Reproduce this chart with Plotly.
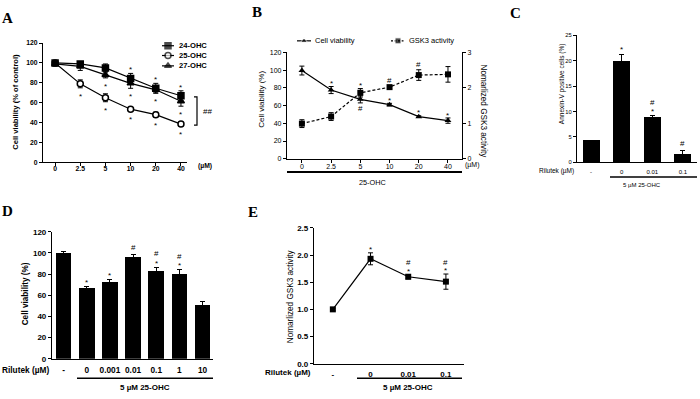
import plotly.graph_objects as go

# ---------------- data ----------------
conc_labels = ["0", "2.5", "5", "10", "20", "40"]
ohc24 = [100, 99, 95, 84.5, 74.5, 67]
ohc24_err = [2, 2, 4, 5, 5, 5]
ohc25 = [100, 79, 65, 53.5, 48, 38.5]
ohc25_err = [2, 4, 4, 1.5, 2.5, 2]
ohc27 = [99, 96.5, 88, 79.5, 73, 61.5]
ohc27_err = [2, 4, 3, 5, 3, 5]
sig24_above = [3, 4, 5]
sig27_below = [2, 3, 4, 5]
sig25_below = [1, 2, 3, 4, 5]

b_viability = [99.5, 77.5, 67, 61, 47.5, 43]
b_viability_err = [5, 4, 4, 1.5, 1, 3]
b_gsk3 = [0.99, 1.19, 1.86, 2.02, 2.36, 2.38]
b_gsk3_err = [0.11, 0.11, 0.12, 0.04, 0.15, 0.22]
b_star = [1, 2, 3, 4, 5]
b_hash = [2, 3, 4]

c_labels = ["-", "0", "0.01", "0.1"]
c_annexin = [4.3, 19.8, 8.9, 1.5]
c_annexin_err = [0, 1.5, 0.25, 0.8]
c_star = [1, 2]
c_hash = [2, 3]

d_labels = ["-", "0", "0.001", "0.01", "0.1", "1", "10"]
d_viability = [100, 67, 73, 96.5, 83.5, 80.5, 51]
d_viability_err = [1, 1.5, 1.5, 2, 3, 3.5, 3]
d_star = [1, 2, 4, 5]
d_hash = [3, 4, 5]

e_labels = ["-", "0", "0.01", "0.1"]
e_gsk3 = [1.0, 1.93, 1.60, 1.51]
e_gsk3_err = [0.02, 0.11, 0.04, 0.14]
e_star = [1, 2, 3]
e_hash = [2, 3]

# ---------------- helpers ----------------
W, H = 700, 399
FONT = "Liberation Sans, Arial, sans-serif"
SERIF = "Liberation Serif, Times New Roman, serif"


def fx(x):
    return x / W


def fy(y):
    return 1 - y / H


def font(size, bold=False):
    return dict(family=FONT, size=size, color="black", weight="bold" if bold else "normal")


def axis(size, bold=False, **kw):
    d = dict(showline=True, linecolor="black", linewidth=1.2, ticks="outside",
             ticklen=3, tickwidth=1, tickcolor="black", showgrid=False,
             zeroline=False, tickfont=font(size, bold), fixedrange=True)
    d.update(kw)
    return d


err = lambda arr: dict(type="data", array=arr, color="black", thickness=1, width=2.5)

fig = go.Figure()
annotations = []
shapes = []


def txt(x, y, s, size, bold=False, angle=0, xanchor="center", yanchor="middle", fam=FONT):
    annotations.append(dict(x=fx(x), y=fy(y), xref="paper", yref="paper", text=s,
                            showarrow=False, textangle=angle, xanchor=xanchor,
                            yanchor=yanchor, borderpad=0,
                            font=dict(family=fam, size=size, color="black",
                                      weight="bold" if bold else "normal")))


def mark(x, y, s, xr, yr, size=8):
    annotations.append(dict(x=x, y=y, xref=xr, yref=yr, text=s, showarrow=False,
                            xanchor="center", yanchor="middle", borderpad=0,
                            yshift=-0.3 * size if s == "*" else 0,
                            font=dict(family=FONT, size=size, color="black")))


def hline(x0, x1, y, w):
    shapes.append(dict(type="line", xref="paper", yref="paper", x0=fx(x0), x1=fx(x1),
                       y0=fy(y), y1=fy(y), line=dict(color="black", width=w)))


# ---------------- panel A ----------------
xa = list(range(len(conc_labels)))
for vals, errs, sym, col in [(ohc25, ohc25_err, "circle", "white"),
                             (ohc27, ohc27_err, "triangle-up", "black"),
                             (ohc24, ohc24_err, "square", "black")]:
    fig.add_trace(go.Scatter(x=xa, y=vals, mode="lines+markers", xaxis="x", yaxis="y",
                             line=dict(color="black", width=1.2),
                             marker=dict(symbol=sym, size=6, color=col,
                                         line=dict(color="black", width=1.5)),
                             error_y=err(errs), cliponaxis=False, showlegend=False))
for i in sig24_above:
    mark(i, ohc24[i] + ohc24_err[i] + 6, "*", "x", "y")
for i in sig27_below:
    mark(i, ohc27[i] - ohc27_err[i] - 6, "*", "x", "y")
for i in sig25_below:
    mark(i, ohc25[i] - ohc25_err[i] - 6, "*", "x", "y")

# ---------------- panel B ----------------
B_LEFT_MAX, B_RIGHT_MAX = 120, 3
ratio = B_LEFT_MAX / B_RIGHT_MAX
xb = list(range(len(conc_labels)))
fig.add_trace(go.Scatter(x=xb, y=b_viability, mode="lines+markers", xaxis="x2", yaxis="y2",
                         line=dict(color="black", width=1.2),
                         marker=dict(symbol="triangle-up", size=6, color="black"),
                         error_y=err(b_viability_err), cliponaxis=False, showlegend=False))
fig.add_trace(go.Scatter(x=xb, y=b_gsk3, mode="lines+markers", xaxis="x2", yaxis="y3",
                         line=dict(color="black", width=1.2, dash="3px,2px"),
                         marker=dict(symbol="square", size=6, color="black"),
                         error_y=err(b_gsk3_err), cliponaxis=False, showlegend=False))
for i in b_star + [j for j in b_hash if j not in b_star]:
    cv_lo, cv_hi = b_viability[i] - b_viability_err[i], b_viability[i] + b_viability_err[i]
    g_lo = (b_gsk3[i] - b_gsk3_err[i]) * ratio
    g_hi = (b_gsk3[i] + b_gsk3_err[i]) * ratio
    overlap = not (g_lo > cv_hi or g_hi < cv_lo)
    if i in b_star:
        mark(i, (max(cv_hi, g_hi) if overlap else cv_hi) + 6, "*", "x2", "y2")
    if i in b_hash:
        mark(i, (min(cv_lo, g_lo) - 6) if overlap else g_hi + 6, "#", "x2", "y2")

# ---------------- panel C ----------------
xc = list(range(len(c_labels)))
fig.add_trace(go.Bar(x=xc, y=c_annexin, width=0.56, xaxis="x4", yaxis="y4",
                     marker=dict(color="black", line=dict(width=0)),
                     error_y=err(c_annexin_err), showlegend=False))
for i in xc:
    top = c_annexin[i] + c_annexin_err[i]
    if i in c_star:
        mark(i, top + 1.3, "*", "x4", "y4")
    if i in c_hash:
        mark(i, top + (2.6 if i in c_star else 1.5), "#", "x4", "y4")

# ---------------- panel D ----------------
xd = list(range(len(d_labels)))
fig.add_trace(go.Bar(x=xd, y=d_viability, width=0.68, xaxis="x5", yaxis="y5",
                     marker=dict(color="black", line=dict(width=0)),
                     error_y=err(d_viability_err), showlegend=False))
for i in xd:
    top = d_viability[i] + d_viability_err[i]
    if i in d_star:
        mark(i, top + 6, "*", "x5", "y5")
    if i in d_hash:
        mark(i, top + (12.5 if i in d_star else 7), "#", "x5", "y5")

# ---------------- panel E ----------------
xe = list(range(len(e_labels)))
fig.add_trace(go.Scatter(x=xe, y=e_gsk3, mode="lines+markers", xaxis="x6", yaxis="y6",
                         line=dict(color="black", width=1.2),
                         marker=dict(symbol="square", size=6, color="black"),
                         error_y=err(e_gsk3_err), cliponaxis=False, showlegend=False))
for i in xe:
    top = e_gsk3[i] + e_gsk3_err[i]
    if i in e_star:
        mark(i, top + 0.1, "*", "x6", "y6")
    if i in e_hash:
        mark(i, top + 0.22, "#", "x6", "y6")

# ---------------- legend keys (pixel overlay axis) ----------------
legend_a = [("24-OHC", "square", "black", 42.7), ("25-OHC", "circle", "white", 52.7),
            ("27-OHC", "triangle-up", "black", 63.3)]
for name, sym, col, yk in legend_a:
    fig.add_trace(go.Scatter(x=[162, 168, 174], y=[yk] * 3, mode="lines+markers",
                             xaxis="x7", yaxis="y7", line=dict(color="black", width=1.2),
                             marker=dict(symbol=sym, size=[0, 6, 0], color=col,
                                         line=dict(color="black", width=1.5)),
                             showlegend=False, hoverinfo="skip"))
    txt(178, yk, name, 7.6, bold=True, xanchor="left")
fig.add_trace(go.Scatter(x=[297, 304, 311], y=[37.7] * 3, mode="lines+markers",
                         xaxis="x7", yaxis="y7", line=dict(color="black", width=1.2),
                         marker=dict(symbol="triangle-up", size=[0, 6, 0], color="black"),
                         showlegend=False, hoverinfo="skip"))
txt(314, 37.7, "Cell viability", 7.5, xanchor="left")
fig.add_trace(go.Scatter(x=[391, 398, 405], y=[37.7] * 3, mode="lines+markers",
                         xaxis="x7", yaxis="y7", line=dict(color="black", width=1.2, dash="2px,1.5px"),
                         marker=dict(symbol="square", size=[0, 6, 0], color="black"),
                         showlegend=False, hoverinfo="skip"))
txt(408, 37.7, "GSK3 activity", 7.5, xanchor="left")

# ---------------- text / decorations ----------------
txt(7, 14, "A", 15, bold=True, fam=SERIF)
txt(257, 8, "B", 15, bold=True, fam=SERIF)
txt(515, 9, "C", 15, bold=True, fam=SERIF)
txt(7, 212, "D", 15, bold=True, fam=SERIF)
txt(253, 213, "E", 15, bold=True, fam=SERIF)

txt(16, 100, "Cell viability (% of control)", 7.6, bold=True, angle=-90)
txt(197, 166, "(µM)", 6.8, bold=True, xanchor="left")
shapes.append(dict(type="path", xref="paper", yref="paper",
                   path=f"M {fx(194)} {fy(95)} L {fx(197)} {fy(95)} L {fx(197)} {fy(124)} L {fx(194)} {fy(124)}",
                   line=dict(color="black", width=1.2)))
txt(207, 110, "##", 8)

txt(262, 98, "Cell viability (%)", 8, angle=-90)
txt(483, 110, "Nomarlized GSK3 activity", 8.2, angle=90)
txt(464, 165, "(µM)", 7, xanchor="left")
hline(287, 462, 172, 2)
txt(373, 183, "25-OHC", 7.3)

txt(562, 82, "Annexin-V positive cells (%)", 6.5, angle=-90)
txt(575, 171, "Rilutek (µM)", 6.5, xanchor="right")
hline(610, 697, 177, 1.3)
txt(642, 185, "5 µM 25-OHC", 6)

txt(25, 297, "Cell viability (%)", 8.2, bold=True, angle=-90)
txt(50, 374, "Rilutek (µM)", 8.3, bold=True, xanchor="right")
hline(77, 213, 383, 1.5)
txt(145, 392, "5 µM 25-OHC", 8, bold=True)

txt(290, 299, "Nomarlized GSK3 activity", 8.2, angle=-90)
txt(312, 377, "Rilutek (µM)", 8, bold=True, xanchor="right")
hline(357, 462, 383, 1.5)
txt(408, 392, "5 µM 25-OHC", 8, bold=True)

# ---------------- layout ----------------
layout = dict(
    width=W, height=H, autosize=False, margin=dict(l=0, r=0, t=0, b=0),
    paper_bgcolor="white", plot_bgcolor="rgba(0,0,0,0)", showlegend=False,
    annotations=annotations, shapes=shapes, bargap=0,
    xaxis=axis(6.8, True, domain=[fx(43), fx(187)], range=[-0.48, 5.24], anchor="y",
               tickvals=xa, ticktext=conc_labels, ticklabelstandoff=-4),
    yaxis=axis(6.8, True, domain=[fy(162), fy(40)], range=[0, 120], anchor="x",
               tickvals=list(range(0, 121, 20))),
    xaxis2=axis(7, domain=[fx(287), fx(462)], range=[-0.51, 5.48], anchor="y2",
                tickvals=xb, ticktext=conc_labels, ticklabelstandoff=-2),
    yaxis2=axis(7, domain=[fy(158.3), fy(49.5)], range=[0, B_LEFT_MAX], anchor="x2",
                tickvals=list(range(0, 121, 20))),
    yaxis3=axis(7, domain=[fy(158.3), fy(49.5)], range=[0, B_RIGHT_MAX], anchor="x2",
                overlaying="y2", side="right", tickvals=[0, 1, 2, 3]),
    xaxis4=axis(6, domain=[fx(577), fx(697)], range=[-0.46, 3.46], anchor="y4",
                tickvals=xc, ticktext=c_labels, tickcolor="rgba(0,0,0,0)"),
    yaxis4=axis(5.8, domain=[fy(162), fy(32)], range=[0, 25], anchor="x4",
                tickvals=list(range(0, 26, 5))),
    xaxis5=axis(8.3, True, domain=[fx(52), fx(213)], range=[-0.5, 6.45], anchor="y5",
                tickvals=xd, ticktext=d_labels, tickcolor="rgba(0,0,0,0)"),
    yaxis5=axis(8, True, domain=[fy(363), fy(233)], range=[0, 120], anchor="x5",
                tickvals=list(range(0, 121, 20))),
    xaxis6=axis(8, True, domain=[fx(314), fx(464)], range=[-0.5, 3.48], anchor="y6",
                tickvals=xe, ticktext=e_labels, tickcolor="rgba(0,0,0,0)"),
    yaxis6=axis(8, True, domain=[fy(368), fy(229)], range=[0, 2.5], anchor="x6",
                tickvals=[0, 0.5, 1, 1.5, 2, 2.5], tickformat=".1f"),
    xaxis7=dict(domain=[0, 1], range=[0, W], visible=False, anchor="y7", fixedrange=True),
    yaxis7=dict(domain=[0, 1], range=[H, 0], visible=False, anchor="x7", fixedrange=True),
)
fig.update_layout(**layout)
fig.write_html("out.html", config={"displayModeBar": False},
               post_script="document.body.style.margin='0px';document.body.style.overflow='hidden';")
